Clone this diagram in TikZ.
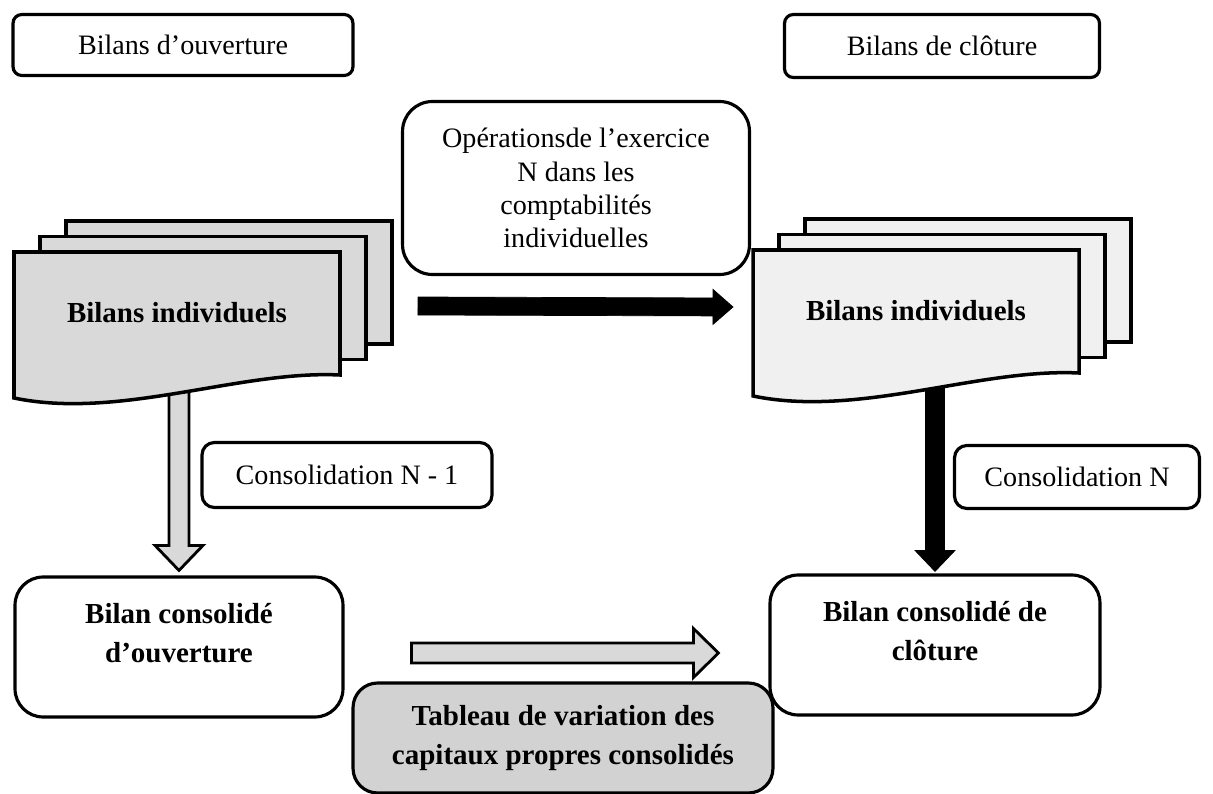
\documentclass[tikz,border=0pt]{standalone}
\usepackage{fontspec}
\setmainfont{Liberation Serif}
\usetikzlibrary{arrows.meta, positioning, calc}

\pgfdeclarelayer{back}
\pgfsetlayers{back,main}

\newcommand\regfont{\fontsize{16}{18.9}\selectfont}
\newcommand\bldfont{\fontsize{16.5}{22.5}\selectfont\bfseries}

% wide block arrow: style, from, to, half shaft, half head, head length
\newcommand\fatarrow[6]{%
    \coordinate (fa-b) at ($(#3)!#6!(#2)$);
    \draw[#1] ($(#2)!#4!90:(#3)$) -- ($(fa-b)!#4!90:(#3)$) -- ($(fa-b)!#5!90:(#3)$)
        -- (#3) -- ($(fa-b)!#5!-90:(#3)$) -- ($(fa-b)!#4!-90:(#3)$)
        -- ($(#2)!#4!-90:(#3)$) -- cycle;
}

\begin{document}
\begin{tikzpicture}[
    x=0.02cm, y=-0.02cm,
    every node/.style={align=center, inner sep=0pt},
    labelbox/.style={draw, line width=1.8pt, rounded corners=5pt, font=\regfont},
    bigbox/.style={labelbox, rounded corners=16pt, font=\bldfont},
    sheet/.style={draw, line width=2pt},
    hollow/.style={draw, line width=1.6pt, fill=gray!30}
]
    \useasboundingbox (0,0) rectangle (1213,794);

    \node[labelbox, minimum width=6.8cm, minimum height=1.22cm] (ouv) at (183,45) {Bilans d’ouverture};
    \node[labelbox, minimum width=6.3cm, minimum height=1.26cm] (clo) at (942,46) {Bilans de clôture};
    \node[labelbox, rounded corners=17pt, minimum width=6.94cm, minimum height=3.46cm] (ops) at (576,188)
        {Opérationsde l’exercice\\N dans les\\comptabilités\\individuelles};

    % piles de bilans
    \foreach \x/\y/\col/\nm in {14/252/gray!30/docL, 753/250/gray!12/docR} {
        \foreach \d in {52,26}
            \draw[sheet, fill=\col] (\x+\d,\y-\d*0.6) rectangle ++(326,123);
        \draw[sheet, fill=\col] (\x,\y) -- (\x+326,\y) -- (\x+326,\y+123)
            .. controls (\x+226,\y+118) and (\x+106,\y+168) .. (\x,\y+146) -- cycle;
        \node[font=\bldfont] (\nm) at (\x+163,\y+61) {Bilans individuels};
    }

    \node[labelbox, rounded corners=7pt, minimum width=5.8cm, minimum height=1.3cm] (cn1) at (347,475) {Consolidation N - 1};
    \node[labelbox, rounded corners=7pt, minimum width=4.9cm, minimum height=1.26cm] (cn) at (1077,477) {Consolidation N};

    \node[bigbox, minimum width=6.56cm, minimum height=2.8cm] (bco) at (179,647) {Bilan consolidé\\d’ouverture\\[-13pt]\strut};
    \node[bigbox, minimum width=6.6cm, minimum height=2.8cm] (bcc) at (935,645) {Bilan consolidé de\\clôture\\[-13pt]\strut};
    \node[bigbox, fill=gray!35, rounded corners=14pt, minimum width=8.4cm, minimum height=2.2cm] (tab) at (563,738)
        {Tableau de variation des\\capitaux propres consolidés};

    \begin{pgfonlayer}{back}
        \coordinate (a1) at (docL.center -| bco.north);
        \coordinate (a2) at ($(bco.north)+(0,-5)$);
        \coordinate (v1) at (docR.center -| bcc.north);
        \coordinate (v2) at ($(bcc.north)+(0,-2)$);
        \coordinate (h1) at ($(docL)+(241,-7)$);
        \coordinate (h2) at ($(docR)+(-183,-4)$);
        \coordinate (b1) at ($(bco.east)+(67,6)$);
        \coordinate (b2) at ($(bcc.west)+(-50,8)$);

        \fatarrow{hollow}{a1}{a2}{0.2cm}{0.48cm}{0.5cm}
        \fatarrow{fill=black}{v1}{v2}{0.19cm}{0.4cm}{0.42cm}
        \fatarrow{fill=black}{h1}{h2}{0.18cm}{0.35cm}{0.4cm}
        \fatarrow{hollow}{b1}{b2}{0.2cm}{0.49cm}{0.5cm}
    \end{pgfonlayer}
\end{tikzpicture}
\end{document}
